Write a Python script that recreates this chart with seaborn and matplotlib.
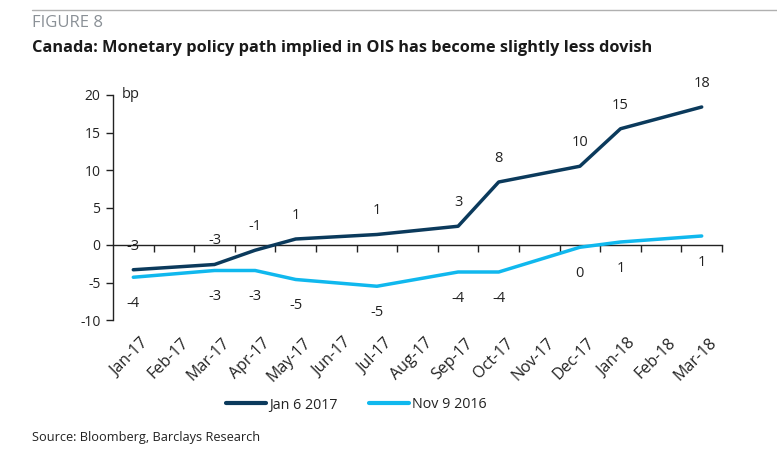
import matplotlib
matplotlib.use("Agg")
import matplotlib.pyplot as plt
import matplotlib.transforms as mtransforms
from matplotlib.lines import Line2D
import seaborn as sns
import pandas as pd
import numpy as np

# ---- data ----
months = ["Jan-17", "Feb-17", "Mar-17", "Apr-17", "May-17", "Jun-17", "Jul-17",
          "Aug-17", "Sep-17", "Oct-17", "Nov-17", "Dec-17", "Jan-18", "Feb-18", "Mar-18"]
point_months = ["Jan-17", "Mar-17", "Apr-17", "May-17", "Jul-17",
                "Sep-17", "Oct-17", "Dec-17", "Jan-18", "Mar-18"]
jan6_2017 = [-3.3, -2.6, -0.7, 0.8, 1.4, 2.5, 8.4, 10.5, 15.5, 18.4]
nov9_2016 = [-4.3, -3.4, -3.4, -4.6, -5.5, -3.6, -3.6, -0.3, 0.4, 1.2]
jan6_labels = ["-3", "-3", "-1", "1", "1", "3", "8", "10", "15", "18"]
nov9_labels = ["-4", "-3", "-3", "-5", "-5", "-4", "-4", "0", "1", "1"]
series_names = ["Jan 6 2017", "Nov 9 2016"]
yticks = [-10, -5, 0, 5, 10, 15, 20]

DARK = "#0b3a5c"
LIGHT = "#10b8ee"
TXT = "#222222"

sns.set_theme(style="white")
plt.rcParams["font.family"] = ["Open Sans", "DejaVu Sans"]

xpos = [months.index(m) for m in point_months]
df = pd.DataFrame({
    "x": xpos + xpos,
    "y": jan6_2017 + nov9_2016,
    "series": [series_names[0]] * len(xpos) + [series_names[1]] * len(xpos),
})

fig = plt.figure(figsize=(7.77, 4.5), dpi=100)
ax = fig.add_axes([113 / 777, 1 - 320 / 450, (722 - 113) / 777, 225 / 450])

sns.lineplot(data=df, x="x", y="y", hue="series", palette=[DARK, LIGHT],
             linewidth=2.5, ax=ax, legend=False, sort=False)

ax.set_xlim(-0.5, len(months) - 0.5)
ax.set_ylim(-10, 20)
ax.set_xlabel("")
ax.set_ylabel("")

for s in ["top", "right", "bottom"]:
    ax.spines[s].set_visible(False)
ax.spines["left"].set_color(TXT)
ax.spines["left"].set_linewidth(1.0)

ax.set_yticks(yticks)
ax.set_yticklabels([str(v) for v in yticks])
ax.tick_params(axis="y", which="both", direction="out", length=5, width=1,
               color=TXT, labelsize=10, labelcolor=TXT, pad=4, left=True)

# month labels at the bottom
ax.set_xticks(range(len(months)))
ax.set_xticklabels(months, rotation=45, ha="right", rotation_mode="anchor",
                   fontsize=11.5, color=TXT)
ax.tick_params(axis="x", length=0, pad=11)
shift = mtransforms.ScaledTranslation(7 / 100, 0, fig.dpi_scale_trans)
for lab in ax.get_xticklabels():
    lab.set_transform(lab.get_transform() + shift)

# zero-line axis with ticks at category boundaries
sec = ax.secondary_xaxis(1 / 3)
sec.set_xticks(np.arange(-0.5, len(months) + 0.5, 1.0)[1:])
sec.set_xticklabels([])
sec.tick_params(axis="x", direction="out", length=5, width=1, color=TXT)
sec.spines["bottom"].set_color(TXT)
sec.spines["bottom"].set_linewidth(1.0)
for s in ["top", "left", "right"]:
    sec.spines[s].set_visible(False)

# data labels
for x, y, lab in zip(xpos, jan6_2017, jan6_labels):
    ax.annotate(lab, (x, y), xytext=(0, 17), textcoords="offset points",
                ha="center", va="center", fontsize=10.5, color=TXT)
for x, y, lab in zip(xpos, nov9_2016, nov9_labels):
    ax.annotate(lab, (x, y), xytext=(0, -19), textcoords="offset points",
                ha="center", va="center", fontsize=10.5, color=TXT)

ax.text(0.015, 20, "bp", fontsize=10.5, color=TXT, va="center", ha="left",
        transform=mtransforms.blended_transform_factory(ax.transAxes, ax.transData))

# legend
handles = [Line2D([], [], color=DARK, lw=3), Line2D([], [], color=LIGHT, lw=3)]
fig.legend(handles, series_names, loc="center", bbox_to_anchor=(356 / 777, 1 - 405 / 450),
           ncol=2, frameon=False, fontsize=10.3, handlelength=2.8, handletextpad=0.2,
           columnspacing=2.2, labelcolor=TXT)

# header / footer
fig.add_artist(plt.Line2D([32 / 777, 1.0], [1 - 10 / 450] * 2, color="#b0b0b0", lw=1))
fig.text(32 / 777, 1 - 23 / 450, "FIGURE 8", fontsize=12, color="#8a9096",
         ha="left", va="center")
fig.text(32 / 777, 1 - 48 / 450,
         "Canada: Monetary policy path implied in OIS has become slightly less dovish",
         fontsize=11.8, fontweight="bold", color="#1a1a1a", ha="left", va="center")
fig.text(32 / 777, 1 - 437 / 450, "Source: Bloomberg, Barclays Research",
         fontsize=9.2, color=TXT, ha="left", va="center")

fig.savefig("out.png", dpi=100)
